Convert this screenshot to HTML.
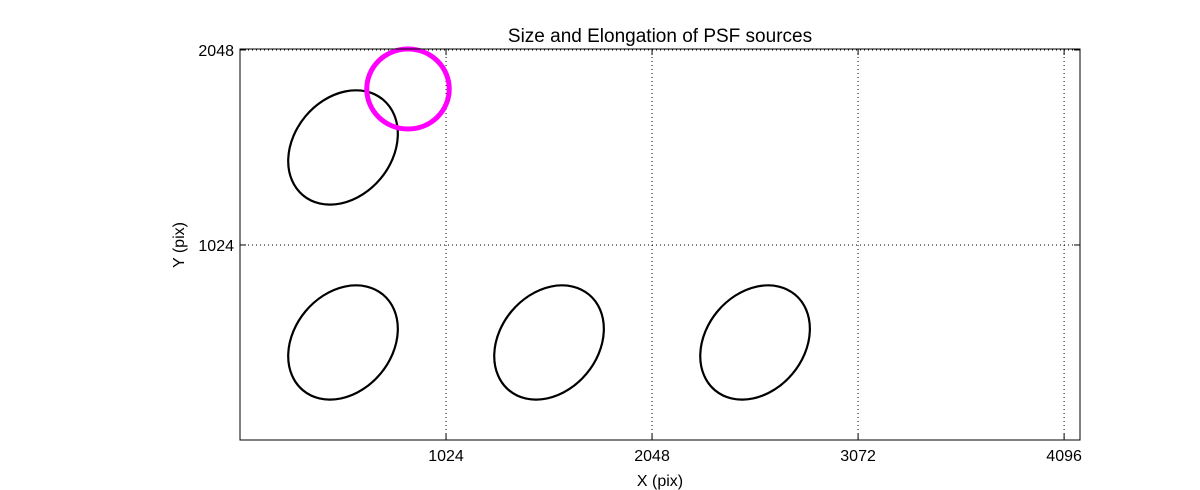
<!DOCTYPE html>
<html><head><meta charset="utf-8"><style>
body{margin:0;background:#fff;}
svg{display:block;font-family:"Liberation Sans","DejaVu Sans",sans-serif;}
</style></head><body>
<svg id="chart" width="1200" height="490" viewBox="0 0 1200 490">
<rect x="0" y="0" width="1200" height="490" fill="#fff"/>
<text x="660" y="42" font-size="19" text-anchor="middle">Size and Elongation of PSF sources</text>
<text x="660" y="486" font-size="16" text-anchor="middle">X (pix)</text>
<text x="184" y="245" font-size="16" text-anchor="middle" transform="rotate(-90 184 245)">Y (pix)</text>
<g id="grid"></g>
<g id="marks"></g>
<rect x="240" y="49" width="840" height="391" fill="none" stroke="#000" stroke-width="1"/>
<g id="ticks"></g>
</svg>
<script>
const xTicks=[1024,2048,3072,4096];
const yTicks=[1024,2048];
const srcX=[512,512,1536,2560,835];
const srcY=[1536,512,512,512,1843];
const srcMajor=[310,310,310,310,205];
const srcMinor=[250,250,250,250,205];
const srcAngle=[-50,-50,-50,-50,0];
const srcColor=['#000','#000','#000','#000','#ff00ff'];
const srcWidth=[2.2,2.2,2.2,2.2,5];
const L=240,R=1080,T=49,B=440;
const X0=0,X1=4175,Y0=0,Y1=2053;
const sx=v=>L+(v-X0)/(X1-X0)*(R-L);
const sy=v=>B-(v-Y0)/(Y1-Y0)*(B-T);
const kx=(R-L)/(X1-X0);
const ns='http://www.w3.org/2000/svg';
const grid=document.getElementById('grid'),ticks=document.getElementById('ticks'),marks=document.getElementById('marks');
function mk(tag,attrs,parent){const e=document.createElementNS(ns,tag);for(const k in attrs)e.setAttribute(k,attrs[k]);parent.appendChild(e);return e;}
xTicks.forEach(t=>{
  const x=sx(t);
  const g=mk('line',{x1:x,x2:x,y1:T,y2:B,stroke:'#000','stroke-dasharray':'1,3','stroke-width':1},grid);
  
  
  mk('line',{x1:x,x2:x,y1:B,y2:B-6,stroke:'#000'},ticks);
  mk('line',{x1:x,x2:x,y1:T,y2:T+6,stroke:'#000'},ticks);
  const tx=mk('text',{x:x,y:B+21,'font-size':16,'text-anchor':'middle'},ticks);
  tx.textContent=t;
  
  
});
yTicks.forEach(t=>{
  const y=sy(t);
  const g=mk('line',{x1:L,x2:R,y1:y,y2:y,stroke:'#000','stroke-dasharray':'1,3','stroke-width':1},grid);
  
  
  mk('line',{x1:L,x2:L+6,y1:y,y2:y,stroke:'#000'},ticks);
  mk('line',{x1:R,x2:R-6,y1:y,y2:y,stroke:'#000'},ticks);
  const tx=mk('text',{x:L-6,y:y+6,'font-size':16,'text-anchor':'end'},ticks);
  tx.textContent=t;
  
  
});
srcX.forEach((v,i)=>{
  const cx=sx(v),cy=sy(srcY[i]);
  const e=mk('ellipse',{cx:cx,cy:cy,rx:srcMajor[i]*kx,ry:srcMinor[i]*kx*0.97,transform:`rotate(${srcAngle[i]} ${cx} ${cy})`,fill:'none',stroke:srcColor[i],'stroke-width':srcWidth[i]},marks);
  
  
});
</script>
</body></html>
